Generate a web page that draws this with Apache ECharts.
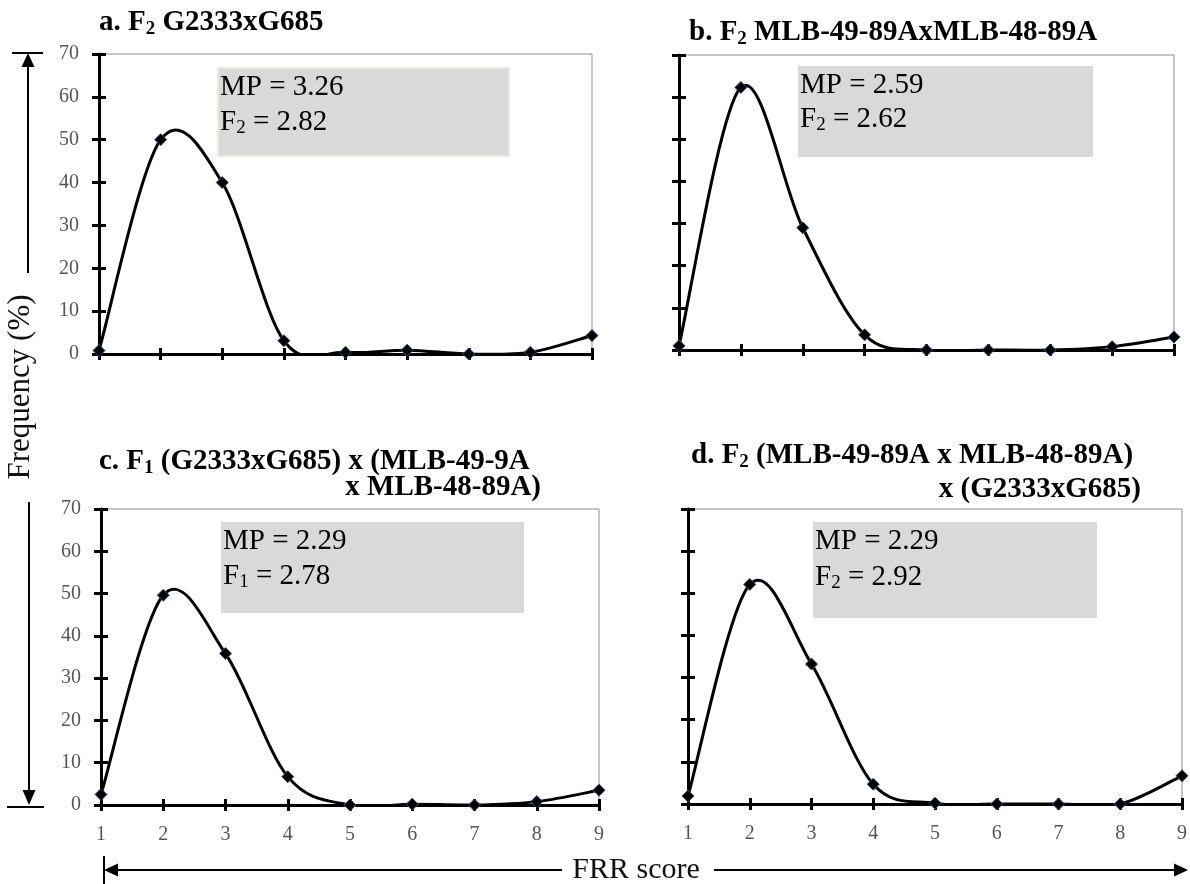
<!DOCTYPE html>
<html>
<head>
<meta charset="utf-8">
<script src="https://cdn.jsdelivr.net/npm/echarts/dist/echarts.min.js"></script>
<style>
  html, body { margin: 0; padding: 0; background: #fff; }
  #chart { width: 1190px; height: 884px; }
</style>
</head>
<body>
<div id="chart"></div>
<script>
// FRR score classes (x axis) and frequency (%) of plants in each class
const scores = [1, 2, 3, 4, 5, 6, 7, 8, 9];
const freqA = [0.8, 50.0, 40.0, 3.1, 0.4, 0.9, 0.0, 0.4, 4.3];
const freqB = [1.0, 62.3, 29.0, 3.6, 0.0, 0.0, 0.0, 0.8, 3.1];
const freqC = [2.5, 49.6, 35.8, 6.7, 0.0, 0.2, 0.0, 0.8, 3.5];
const freqD = [1.9, 52.1, 33.2, 4.7, 0.2, 0.0, 0.0, 0.0, 6.7];

// Frequency axis range
const yMin = 0, yMax = 70, yStep = 10;

// Panel headings (rich text: {b|..} bold, {bs|..} bold subscript)
const titleA = ['{b|a. F}{bs|2}{b| G2333xG685}'];
const titleB = ['{b|b. F}{bs|2}{b| MLB-49-89AxMLB-48-89A}'];
const titleC = ['{b|c. F}{bs|1}{b| (G2333xG685) x (MLB-49-9A}', '{b|x MLB-48-89A)}'];
const titleD = ['{b|d. F}{bs|2}{b| (MLB-49-89A x MLB-48-89A)}', '{b|x (G2333xG685)}'];

// Mid-parent and generation means
const statsA = ['{n|MP = 3.26}', '{n|F}{s|2}{n| = 2.82}'];
const statsB = ['{n|MP = 2.59}', '{n|F}{s|2}{n| = 2.62}'];
const statsC = ['{n|MP = 2.29}', '{n|F}{s|1}{n| = 2.78}'];
const statsD = ['{n|MP = 2.29}', '{n|F}{s|2}{n| = 2.92}'];

const yAxisName = 'Frequency (%)';
const xAxisName = 'FRR score';

const SERIF = "'Liberation Serif', 'Times New Roman', serif";

const rich = {
  b:  { fontFamily: SERIF, fontWeight: 'bold', fontSize: 29, color: '#000', lineHeight: 32 },
  bs: { fontFamily: SERIF, fontWeight: 'bold', fontSize: 19, color: '#000', lineHeight: 32, verticalAlign: 'bottom' },
  n:  { fontFamily: SERIF, fontSize: 29, color: '#111', lineHeight: 32 },
  s:  { fontFamily: SERIF, fontSize: 19, color: '#111', lineHeight: 32, verticalAlign: 'bottom' }
};

// Layout of the four panels
const panels = [
  { grid: { left: 99,  top: 54,  width: 493, height: 300 }, data: freqA, xLab: false, yLab: true,
    title: titleA, titlePos: [[99, 23, 'left']],
    box: [218, 68, 291, 88], boxBorder: true, stats: statsA, statsY: [87, 122] },
  { grid: { left: 679, top: 55,  width: 495, height: 295 }, data: freqB, xLab: false, yLab: false,
    title: titleB, titlePos: [[689, 33, 'left']],
    box: [798, 66, 295, 91], boxBorder: false, stats: statsB, statsY: [85, 119] },
  { grid: { left: 101, top: 509, width: 498, height: 296 }, data: freqC, xLab: true, yLab: true,
    title: titleC, titlePos: [[99, 462, 'left'], [541, 488, 'right']],
    box: [221, 522, 303, 91], boxBorder: false, stats: statsC, statsY: [541, 576] },
  { grid: { left: 688, top: 509, width: 494, height: 295 }, data: freqD, xLab: true, yLab: false,
    title: titleD, titlePos: [[691, 456, 'left'], [1141, 490, 'right']],
    box: [813, 522, 284, 96], boxBorder: false, stats: statsD, statsY: [541, 577] }
];

const AX = '#000';
const grids = [], xAxes = [], yAxes = [], series = [], graphics = [];

// Smoothed curve through the data points (cubic Bezier, 1/6 tangent rule)
function smoothSegment(params, api) {
  const i = params.dataIndexInside;
  const n = params.dataInsideLength;
  if (i >= n - 1) return null;
  const P = j => {
    j = Math.max(0, Math.min(n - 1, j));
    return api.coord([api.value(0, j), api.value(1, j)]);
  };
  const p0 = P(i - 1), p1 = P(i), p2 = P(i + 1), p3 = P(i + 2);
  return {
    type: 'bezierCurve',
    shape: {
      x1: p1[0], y1: p1[1], x2: p2[0], y2: p2[1],
      cpx1: p1[0] + (p2[0] - p0[0]) / 6, cpy1: p1[1] + (p2[1] - p0[1]) / 6,
      cpx2: p2[0] - (p3[0] - p1[0]) / 6, cpy2: p2[1] - (p3[1] - p1[1]) / 6
    },
    style: { stroke: '#000', lineWidth: 3, fill: null, lineCap: 'round', lineJoin: 'round' }
  };
}

panels.forEach((p, i) => {
  grids.push(Object.assign({ show: true, borderColor: '#8c8c8c', borderWidth: 1, backgroundColor: 'transparent' }, p.grid));

  // each axis: main (line, inner half of the tick, labels) + companion (outer half of the tick)
  [true, false].forEach(isMain => {
    xAxes.push({
      type: 'value', gridIndex: i, position: 'bottom', offset: 0,
      min: scores[0], max: scores[scores.length - 1], interval: 1,
      axisLine: { show: isMain, onZero: false, lineStyle: { color: AX, width: 3 } },
      axisTick: { show: true, inside: isMain, length: 6, lineStyle: { color: AX, width: 3 } },
      axisLabel: { show: isMain && p.xLab, margin: 20, color: '#555', fontFamily: SERIF, fontSize: 20 },
      splitLine: { show: false }
    });
    yAxes.push({
      type: 'value', gridIndex: i, position: 'left', offset: 0,
      min: yMin, max: yMax, interval: yStep,
      axisLine: { show: isMain, onZero: false, lineStyle: { color: AX, width: 3 } },
      axisTick: { show: true, inside: isMain, length: 7, lineStyle: { color: AX, width: 3 } },
      axisLabel: { show: isMain && p.yLab, margin: 20, color: '#555', fontFamily: SERIF, fontSize: 20 },
      splitLine: { show: false }
    });
  });

  const pts = scores.map((s, k) => [s, p.data[k]]);
  series.push({
    type: 'custom', xAxisIndex: 2 * i, yAxisIndex: 2 * i,
    data: pts, renderItem: smoothSegment, clip: true, z: 4
  });
  series.push({
    type: 'scatter', xAxisIndex: 2 * i, yAxisIndex: 2 * i,
    data: pts, symbol: 'diamond', symbolSize: 12,
    itemStyle: { color: '#000', borderColor: '#2c4a78', borderWidth: 1, opacity: 1 },
    z: 6
  });

  // statistics box
  const [bx, by, bw, bh] = p.box;
  graphics.push({
    type: 'rect', shape: { x: bx, y: by, width: bw, height: bh },
    style: { fill: '#d9d9d9', stroke: p.boxBorder ? '#ecebdc' : null, lineWidth: p.boxBorder ? 2 : 0 },
    z: 1
  });
  p.stats.forEach((t, k) => {
    graphics.push({
      type: 'text', x: bx + 2, y: p.statsY[k], z: 10,
      style: { text: t, rich: rich, align: 'left', verticalAlign: 'middle' }
    });
  });

  // panel heading
  p.title.forEach((t, k) => {
    const [tx, ty, al] = p.titlePos[k];
    graphics.push({
      type: 'text', x: tx, y: ty, z: 10,
      style: { text: t, rich: rich, align: al, verticalAlign: 'middle' }
    });
  });
});

// Shared axis names with arrows
const LINE = { stroke: '#000', lineWidth: 2 };
graphics.push(
  { type: 'text', x: 21, y: 387, rotation: Math.PI / 2, z: 10,
    style: { text: yAxisName, font: '31px ' + SERIF, fill: '#111', align: 'center', verticalAlign: 'middle' } },
  // upward arrow
  { type: 'line', shape: { x1: 28, y1: 273, x2: 28, y2: 64 }, style: LINE },
  { type: 'polygon', shape: { points: [[28, 53], [21.5, 67], [34.5, 67]] }, style: { fill: '#000' } },
  { type: 'line', shape: { x1: 12, y1: 53, x2: 43, y2: 53 }, style: LINE },
  // downward arrow
  { type: 'line', shape: { x1: 29, y1: 502, x2: 29, y2: 792 }, style: LINE },
  { type: 'polygon', shape: { points: [[29, 805], [22.5, 790], [35.5, 790]] }, style: { fill: '#000' } },
  { type: 'line', shape: { x1: 7, y1: 807, x2: 44, y2: 807 }, style: LINE },

  { type: 'text', x: 636, y: 870, z: 10,
    style: { text: xAxisName, font: '30px ' + SERIF, fill: '#111', align: 'center', verticalAlign: 'middle' } },
  // leftward arrow
  { type: 'line', shape: { x1: 116, y1: 870, x2: 562, y2: 870 }, style: LINE },
  { type: 'polygon', shape: { points: [[104, 870], [118, 863.5], [118, 876.5]] }, style: { fill: '#000' } },
  { type: 'line', shape: { x1: 104, y1: 856, x2: 104, y2: 884 }, style: LINE },
  // rightward arrow
  { type: 'line', shape: { x1: 714, y1: 870, x2: 1175, y2: 870 }, style: LINE },
  { type: 'polygon', shape: { points: [[1188, 870], [1174, 863.5], [1174, 876.5]] }, style: { fill: '#000' } }
);

const chart = echarts.init(document.getElementById('chart'), null, { renderer: 'canvas' });
chart.setOption({
  animation: false,
  backgroundColor: '#fff',
  grid: grids,
  xAxis: xAxes,
  yAxis: yAxes,
  series: series,
  graphic: { elements: graphics }
});
</script>
</body>
</html>
